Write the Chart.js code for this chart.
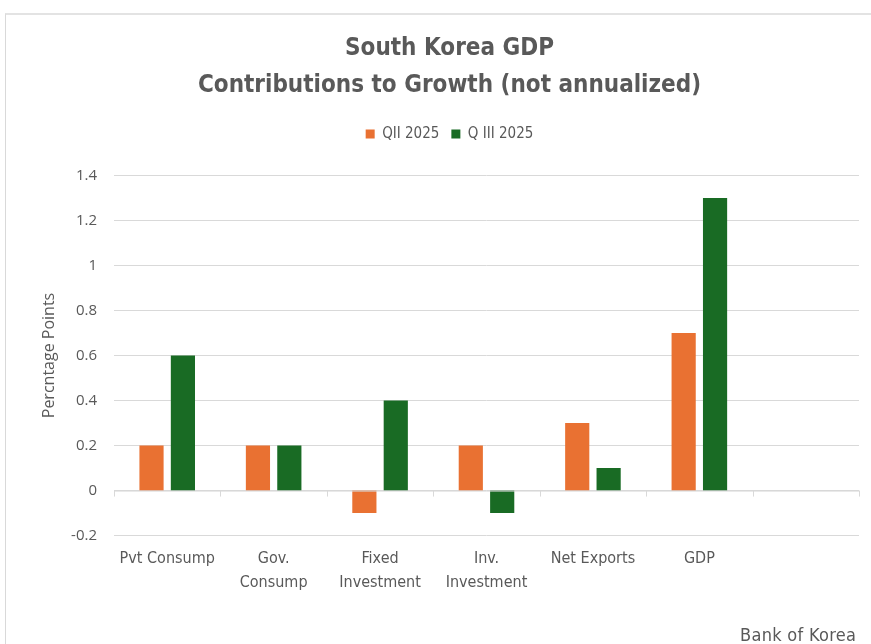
<!DOCTYPE html>
<html>
<head>
<meta charset="utf-8">
<script src="https://cdn.jsdelivr.net/npm/chart.js@4/dist/chart.umd.min.js"></script>
<style>
  body { margin: 0; background: #fff; }
  #wrap { position: relative; width: 871px; height: 644px; overflow: hidden; }
  #frame { position: absolute; left: 5px; top: 13px; width: 900px; height: 700px;
           border-left: 1px solid #d9d9d9; border-top: 2px solid #e3e3e3; }
  #source { position: absolute; left: 740px; top: 624px; font: 18px 'DejaVu Sans Condensed', sans-serif; color: #595959; letter-spacing: 0.3px; }
  canvas { position: absolute; left: 0; top: 0; }
</style>
</head>
<body>
<div id="wrap">
  <div id="frame"></div>
  <canvas id="chart-id" width="871" height="644"></canvas>
  <div id="source">Bank of Korea</div>
</div>
<script>
'use strict';

var categories = ['Pvt Consump', ['Gov.', 'Consump'], ['Fixed', 'Investment'], ['Inv.', 'Investment'], 'Net Exports', 'GDP', ''];
var q2Values = [0.2, 0.2, -0.1, 0.2, 0.3, 0.7, null];
var q3Values = [0.6, 0.2, 0.4, -0.1, 0.1, 1.3, null];
var seriesNames = ['QII 2025', 'Q III 2025'];
var titleLines = ['South Korea GDP', 'Contributions to Growth (not annualized)'];
var yAxisTitle = 'Percntage Points';

var narrow = "'DejaVu Sans Condensed', 'Liberation Sans', sans-serif";
var gray = '#595959';

//draws the category ticks along the zero line
var zeroTicks = {
  id: 'zeroTicks',
  afterDatasetsDraw: function(chart){
    var ctx = chart.ctx;
    var area = chart.chartArea;
    var y0 = chart.scales.y.getPixelForValue(0);
    var n = categories.length;
    var step = (area.right - area.left) / n;
    ctx.save();
    ctx.strokeStyle = '#d9d9d9';
    ctx.lineWidth = 1;
    ctx.beginPath();
    ctx.moveTo(area.left, y0 + 0.5);
    ctx.lineTo(area.right, y0 + 0.5);
    for(var i = 0; i <= n; i++){
      var x = Math.round(area.left + step * i) + 0.5;
      ctx.moveTo(x, y0);
      ctx.lineTo(x, y0 + 6);
    }
    ctx.stroke();
    ctx.restore();
  }
};

//extra space below the legend
var legendGap = {
  id: 'legendGap',
  beforeInit: function(chart){
    var fit = chart.legend.fit;
    chart.legend.fit = function(){
      fit.bind(chart.legend)();
      this.height += 24;
    };
  }
};

var ctx = document.getElementById('chart-id').getContext('2d');
var chart = new Chart(ctx, {
  type: 'bar',
  data: {
    labels: categories,
    datasets: [{
      label: seriesNames[0],
      backgroundColor: '#E97132',
      data: q2Values
    },
    {
      label: seriesNames[1],
      backgroundColor: '#196B24',
      data: q3Values
    }]
  },
  options: {
    responsive: false,
    animation: false,
    devicePixelRatio: 1,
    layout: { padding: { left: 40, right: 12, top: 30, bottom: 38 } },
    datasets: {
      bar: { categoryPercentage: 0.59, barPercentage: 0.77 }
    },
    plugins: {
      title: {
        display: true,
        text: titleLines,
        color: gray,
        font: { family: narrow, size: 24, weight: 'bold', lineHeight: 1.55 },
        padding: { top: 0, bottom: 10 }
      },
      legend: {
        position: 'top',
        labels: {
          color: gray,
          boxWidth: 9,
          boxHeight: 9,
          padding: 12,
          font: { family: narrow, size: 15 }
        }
      },
      tooltip: { enabled: false }
    },
    scales: {
      x: {
        grid: { display: false, drawTicks: false },
        border: { display: false },
        ticks: {
          color: gray,
          padding: 12,
          maxRotation: 0,
          autoSkip: false,
          font: { family: narrow, size: 16, lineHeight: 1.45 }
        }
      },
      y: {
        min: -0.2,
        max: 1.4,
        afterFit: function(scale){ scale.width = 74; },
        grid: { color: '#d9d9d9', drawTicks: false },
        border: { display: false },
        ticks: {
          stepSize: 0.2,
          color: gray,
          padding: 17,
          font: { family: "'Open Sans', sans-serif", size: 15 },
          callback: function(value){
            var v = Math.round(value * 10) / 10;
            return v === 0 ? '0' : String(v);
          }
        },
        title: {
          display: true,
          text: yAxisTitle,
          color: gray,
          padding: 0,
          font: { family: "'Open Sans', sans-serif", size: 16 }
        }
      }
    }
  },
  plugins: [zeroTicks, legendGap]
});
</script>
</body>
</html>
